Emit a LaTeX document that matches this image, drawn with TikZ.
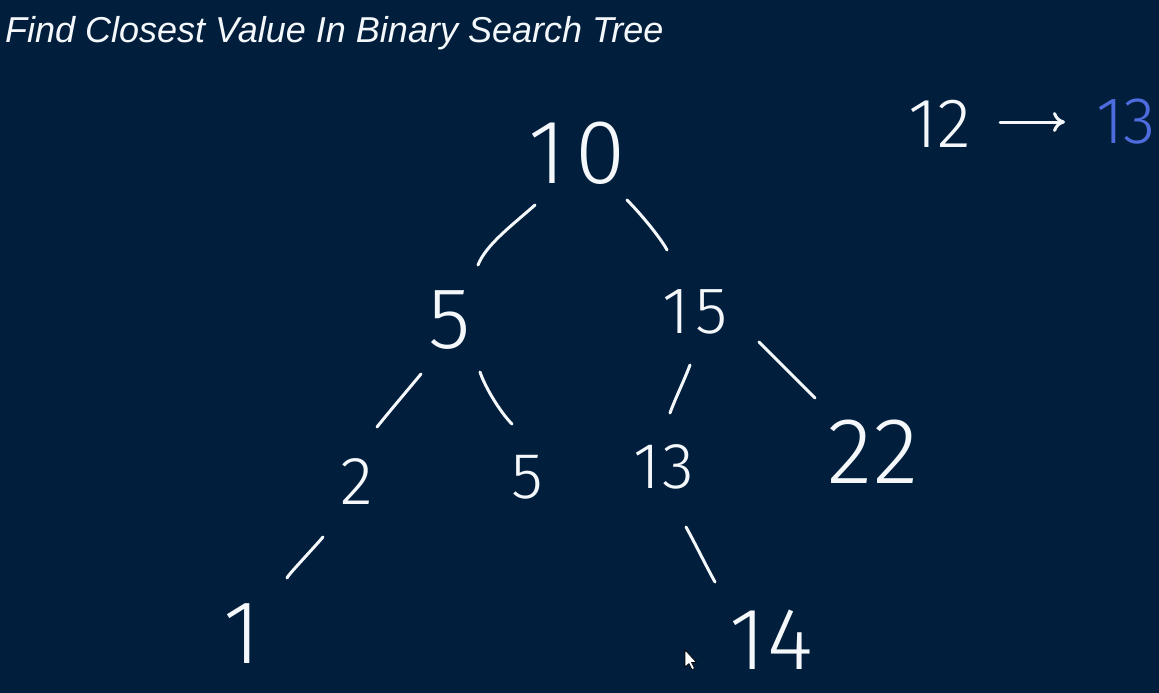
\documentclass[tikz,border=0pt]{standalone}
\usepackage{fontspec}
\setmainfont{Liberation Sans}
\newfontfamily\hand{Fira Sans Light}
\usetikzlibrary{arrows.meta,calc}
\definecolor{bg}{RGB}{1,31,61}
\definecolor{ink}{RGB}{245,248,250}
\definecolor{blueink}{RGB}{78,108,222}
\newcommand\hsz[1]{\hand\fontsize{#1}{#1}\selectfont}
\begin{document}
\begin{tikzpicture}[x=1pt,y=-1pt,
  num/.style={text=ink, inner sep=0pt},
  edge/.style={draw=ink, line width=3pt, line cap=round}]
\fill[bg] (0,0) rectangle (1159,693);
\useasboundingbox (0,0) rectangle (1159,693);
\node[anchor=base west, inner sep=0pt, text=ink, font=\fontsize{36}{36}\selectfont\itshape] (title) at (5,43) {Find Closest Value In Binary Search Tree};
\node[num, font=\hsz{91}] (n10) at (577,153) {1\hspace{10pt}0};
\node[num, font=\hsz{87}] (n5) at (450,320) {5};
\node[num, font=\hsz{66}] (n15) at (695,312) {1\hspace{6pt}5};
\node[num, font=\hsz{68}] (n2) at (357,482) {2};
\node[num, font=\hsz{65}] (n5b) at (527,477) {5};
\node[num, font=\hsz{65}] (n13) at (664,467) {1\hspace{2pt}3};
\node[num, font=\hsz{94}] (n22) at (873,452) {22};
\node[num, font=\hsz{90}] (n1) at (242,634) {1};
\node[num, font=\hsz{88}] (n14) at (771,640) {1\hspace{2pt}4};
\node[num, font=\hsz{70}] (n12) at (940,124) {12};
\node[num, font=\hsz{66}, text=blueink] (n13b) at (1126,122) {13};
% edges
\draw[edge] ($(n10)+(-42,52)$) .. controls +(-25,22) and +(8,-20) .. ($(n5)+(28,-55)$);
\draw[edge] ($(n10)+(50,47)$) .. controls +(15,15) and +(-5,-10) .. ($(n15)+(-28,-62)$);
\draw[edge] ($(n5)+(-29,54)$) .. controls +(-15,18) and +(12,-15) .. ($(n2)+(20,-55)$);
\draw[edge] ($(n5)+(30,52)$) .. controls +(5,15) and +(-12,-12) .. ($(n5b)+(-15,-53)$);
\draw[edge] ($(n15)+(-5,53)$) .. controls +(-6,16) and +(5,-14) .. ($(n13)+(6,-54)$);
\draw[edge] ($(n15)+(64,30)$) .. controls +(12,12) and +(-18,-18) .. ($(n22)+(-58,-54)$);
\draw[edge] ($(n2)+(-34,55)$) .. controls +(-12,14) and +(0,-2) .. ($(n1)+(45,-56)$);
\draw[edge] ($(n13)+(22,60)$) .. controls +(10,18) and +(-10,-18) .. ($(n14)+(-56,-58)$);
% arrow
\draw[edge, -{To[length=12pt,width=20pt]}] ($(n12)+(60,-2)$) -- ($(n13b)+(-61,0)$);
% cursor
\filldraw[fill=white, draw=black, line width=0.6pt, shift={(685,650)}] (0,0) -- (0,17) -- (4,13.5) -- (7,19.5) -- (9.5,18.5) -- (6.5,12.5) -- (11.5,12.5) -- cycle;
\end{tikzpicture}
\end{document}
